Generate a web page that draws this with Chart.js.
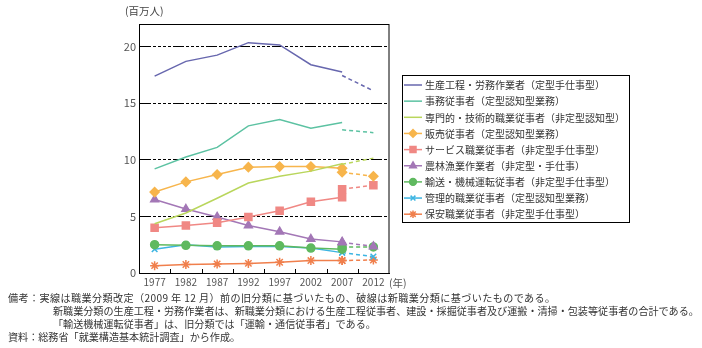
<!DOCTYPE html>
<html><head><meta charset="utf-8">
<script src="https://cdn.jsdelivr.net/npm/chart.js@4/dist/chart.umd.min.js"></script>
<style>
html,body{margin:0;padding:0;background:#fff;}
#wrap{position:relative;width:702px;height:348px;overflow:hidden;font-family:"Noto Sans CJK JP","Noto Sans",sans-serif;color:#333;}
#c{position:absolute;left:0;top:0;}
.t{position:absolute;font-size:10.1px;line-height:13px;white-space:nowrap;color:#333;}
</style></head>
<body><div id="wrap"><canvas id="c" width="702" height="348"></canvas>
<div class="t" style="left:125px;top:4px;font-size:10.5px;color:#444;">(百万人)</div>
<div class="t" style="left:389px;top:276px;font-size:10.5px;color:#555;">(年)</div>
<div class="t" style="left:8px;top:291px;letter-spacing:0.4px;">備考：実線は職業分類改定（2009 年 12 月）前の旧分類に基づいたもの、破線は新職業分類に基づいたものである。</div>
<div class="t" style="left:53px;top:304px;">新職業分類の生産工程・労務作業者は、新職業分類における生産工程従事者、建設・採掘従事者及び運搬・清掃・包装等従事者の合計である。</div>
<div class="t" style="left:53px;top:317px;">「輸送機械運転従事者」は、旧分類では「運輸・通信従事者」である。</div>
<div class="t" style="left:8px;top:330px;">資料：総務省「就業構造基本統計調査」から作成。</div>
</div>
<script>
const years = ['1977','1982','1987','1992','1997','2002','2007','2012'];
const yTicks = [0,5,10,15,20];

const seriesNames = [
 '生産工程・労務作業者（定型手仕事型）',
 '事務従事者（定型認知型業務）',
 '専門的・技術的職業従事者（非定型認知型）',
 '販売従事者（定型認知型業務）',
 'サービス職業従事者（非定型手仕事型）',
 '農林漁業作業者（非定型・手仕事）',
 '輸送・機械運転従事者（非定型手仕事型）',
 '管理的職業従事者（定型認知型業務）',
 '保安職業従事者（非定型手仕事型）'
];
// old classification (solid), 1977-2007
const oldProduction = [17.4, 18.7, 19.25, 20.35, 20.15, 18.4, 17.75, null];
const oldClerical   = [9.2, 10.25, 11.1, 13.0, 13.55, 12.8, 13.3, null];
const oldProfessional = [4.35, 5.3, 6.6, 7.95, 8.55, 9.0, 9.65, null];
const oldSales      = [7.15, 8.05, 8.7, 9.35, 9.4, 9.4, 9.25, null];
const oldService    = [4.0, 4.2, 4.45, 4.95, 5.5, 6.3, 6.7, null];
const oldFarming    = [6.5, 5.65, 4.95, 4.2, 3.65, 3.0, 2.75, null];
const oldTransport  = [2.5, 2.45, 2.4, 2.4, 2.4, 2.2, 2.1, null];
const oldManagerial = [2.1, 2.5, 2.3, 2.35, 2.35, 2.2, 1.8, null];
const oldSecurity   = [0.65, 0.75, 0.8, 0.85, 0.95, 1.1, 1.1, null];
// new classification (dashed), 2007-2012
const newProduction = [null,null,null,null,null,null,17.45,16.1];
const newClerical   = [null,null,null,null,null,null,12.65,12.4];
const newProfessional = [null,null,null,null,null,null,9.6,10.15];
const newSales      = [null,null,null,null,null,null,8.9,8.55];
const newService    = [null,null,null,null,null,null,7.4,7.75];
const newFarming    = [null,null,null,null,null,null,2.7,2.35];
const newTransport  = [null,null,null,null,null,null,2.3,2.3];
const newManagerial = [null,null,null,null,null,null,1.8,1.45];
const newSecurity   = [null,null,null,null,null,null,1.1,1.15];

const oldData = [oldProduction,oldClerical,oldProfessional,oldSales,oldService,oldFarming,oldTransport,oldManagerial,oldSecurity];
const newData = [newProduction,newClerical,newProfessional,newSales,newService,newFarming,newTransport,newManagerial,newSecurity];
const colors = ['#6767ae','#5cc2a2','#b9d65c','#f7b54c','#f08884','#a377b6','#5fb95f','#3db5e2','#f07f4c'];
const markers = [false,false,false,'rectRot','rect','triangle','circle','crossRot','star'];
const radii = [0,0,0,4.5,5,4.5,4,4,4.5];

const datasets = [];
seriesNames.forEach((n,i)=>{
  const common = {
    borderColor: colors[i], backgroundColor: colors[i],
    pointStyle: markers[i] || 'circle', pointRadius: markers[i] ? radii[i] : 0,
    pointBorderColor: colors[i], pointBackgroundColor: colors[i], pointBorderWidth: 1.5,
    borderWidth: 1.5, tension: 0, spanGaps: false
  };
  datasets.push(Object.assign({label:n, data: oldData[i]}, common));
  datasets.push(Object.assign({label:n+'（新分類）', data: newData[i], borderDash:[4,3]}, common));
});

const frameAndLegend = {
  id:'frameAndLegend',
  afterDraw(chart){
    const ctx = chart.ctx, a = chart.chartArea, xs = chart.scales.x;
    ctx.save();
    ctx.strokeStyle='#000'; ctx.lineWidth=1;
    ctx.strokeRect(Math.round(a.left)+0.5, Math.round(a.top)+0.5, Math.round(a.right-a.left)-0.5, Math.round(a.bottom-a.top));
    // inward tick marks between categories
    for(let i=0;i<years.length-1;i++){
      const x = Math.round((xs.getPixelForValue(i)+xs.getPixelForValue(i+1))/2)+0.5;
      ctx.beginPath(); ctx.moveTo(x, a.bottom); ctx.lineTo(x, a.bottom-4); ctx.stroke();
    }
    // legend
    const lx = Math.round(a.right)+13, ly = 75, lw = 227, rowH = 16.15;
    ctx.strokeRect(lx+0.5, ly+0.5, lw, 147);
    ctx.font = '10px "Noto Sans CJK JP"';
    ctx.textBaseline='middle'; ctx.textAlign='left';
    seriesNames.forEach((n,i)=>{
      const ds = chart.data.datasets[2*i];
      const y = ly + 10 + i*rowH;
      ctx.strokeStyle = ds.borderColor; ctx.lineWidth = 1.5; ctx.setLineDash([]);
      ctx.beginPath(); ctx.moveTo(lx+2, y); ctx.lineTo(lx+20, y); ctx.stroke();
      if (markers[i]) {
        ctx.fillStyle = ds.backgroundColor;
        Chart.helpers.drawPoint(ctx, {pointStyle: ds.pointStyle, radius: ds.pointRadius*0.85, borderWidth: 1.5, rotation: 0}, lx+11, y);
      }
      ctx.fillStyle = '#333';
      ctx.fillText(n, lx+23, y+0.5);
    });
    ctx.restore();
  }
};

new Chart(document.getElementById('c'), {
  type:'line',
  data:{labels: years, datasets},
  options:{
    responsive:false, animation:false,
    layout:{padding:{left:109, right:313, top:24, bottom:55}},
    plugins:{legend:{display:false}, tooltip:{enabled:false}},
    scales:{
      x:{
        offset:true,
        grid:{display:false, offset:true, drawTicks:false},
        border:{display:true, color:'#000', width:1},
        ticks:{color:'#555', font:{family:'Noto Sans CJK JP', size:10}, padding:3, maxRotation:0, autoSkip:false},
        afterFit(s){ s.height = 20; }
      },
      y:{
        min:0, max:22,
        afterBuildTicks(s){ s.ticks = yTicks.map(v=>({value:v})); },
        grid:{color:'#000', lineWidth:1, drawTicks:false},
        border:{display:true, color:'#000', width:1, dash:[11,2,3,2,3,2,3,2,3,2]},
        ticks:{color:'#555', font:{family:'Noto Sans CJK JP', size:11}, padding:3},
        afterFit(s){ s.width = 30; }
      }
    }
  },
  plugins:[frameAndLegend]
});
</script></body></html>
